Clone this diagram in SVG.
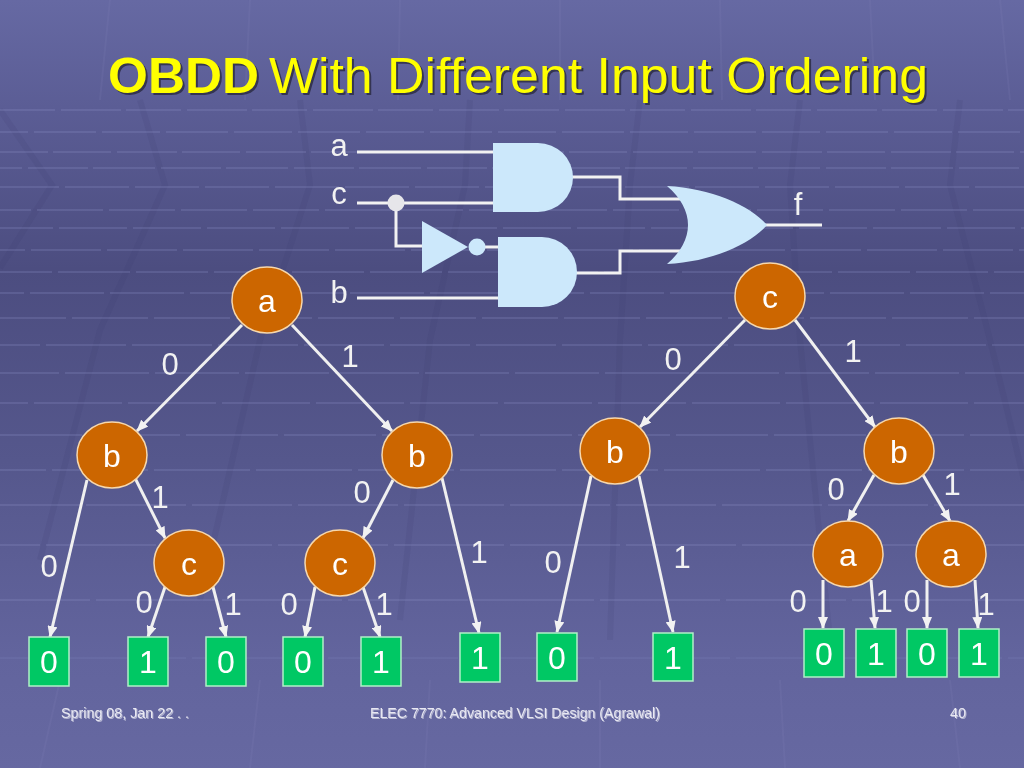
<svg xmlns="http://www.w3.org/2000/svg" width="1024" height="768" viewBox="0 0 1024 768">
<defs>
<linearGradient id="bg" x1="0" y1="0" x2="0" y2="1">
<stop offset="0" stop-color="#6669a3"/>
<stop offset="0.14" stop-color="#5b5d95"/>
<stop offset="0.35" stop-color="#4c4d80"/>
<stop offset="0.6" stop-color="#55578c"/>
<stop offset="0.85" stop-color="#62649d"/>
<stop offset="1" stop-color="#6668a1"/>
</linearGradient>
<marker id="arr" markerUnits="userSpaceOnUse" markerWidth="12" markerHeight="10" refX="11" refY="5" orient="auto">
<path d="M0,0 L12,5 L0,10 z" fill="#f2f2f2"/>
</marker>
<style>
.grid{stroke:#9092c8;stroke-width:2;opacity:0.24;fill:none}
.dgrid{stroke:#3c3d6a;stroke-width:6;opacity:0.12;fill:none}
.vgrid{stroke:#8486bc;stroke-width:2;opacity:0.15;fill:none}
.wire{stroke:#f2f2f2;stroke-width:3;fill:none}
.gate{fill:#cce8fb}
.edge{stroke:#f0f0f0;stroke-width:3;fill:none;marker-end:url(#arr)}
.node{fill:#cc6600;stroke:#f7d8ac;stroke-width:1.5}
.leaf{fill:#00c864;stroke:#b0f0c8;stroke-width:1.5}
.lbl{font-family:"Liberation Sans",Arial,sans-serif;font-size:32px;fill:#ffffff;text-anchor:middle}
.elbl{font-family:"Liberation Sans",Arial,sans-serif;font-size:31px;fill:#f2f2f2;text-anchor:middle}
.foot{font-family:"Liberation Sans Narrow","Liberation Sans",Arial,sans-serif;font-size:14px;fill:#e8e8f2}
.title{font-family:"Liberation Sans Narrow","Liberation Sans",Arial,sans-serif;font-size:50px}
</style>
</defs>
<g id="background">
<rect width="1024" height="768" fill="url(#bg)"/>
<path class="vgrid" d="M110,0 L100,100 M250,0 L245,100 M400,0 L398,100 M560,0 L560,100 M720,0 L722,100 M870,0 L875,100 M1000,0 L1010,100 M60,680 L40,768 M260,680 L250,768 M430,680 L425,768 M600,680 L600,768 M780,680 L785,768 M950,680 L960,768"/>
<path class="dgrid" d="M0,110 L52,185 L0,268 M140,100 L165,185 L100,330 L40,560 M300,100 L310,185 L260,340 L200,600 M470,100 L465,185 L430,340 L400,620 M640,100 L630,185 L620,340 L610,640 M800,100 L790,185 L800,340 L830,640 M960,100 L950,185 L990,340 L1024,480"/>
<g class="grid">
<path d="M0,110 H1024" stroke-dasharray="55 6 60 5"/>
<path d="M0,132 H1024" stroke-dasharray="58 6 62 6" stroke-dashoffset="30"/>
<path d="M0,152 H1024" stroke-dasharray="60 5 58 6" stroke-dashoffset="12"/>
<path d="M0,168 H1024" stroke-dasharray="62 6 60 5" stroke-dashoffset="40"/>
<path d="M0,187 H1024" stroke-dasharray="64 6" stroke-dashoffset="5"/>
<path d="M0,210 H1024" stroke-dasharray="66 6" stroke-dashoffset="35"/>
<path d="M0,228 H1024" stroke-dasharray="68 6" stroke-dashoffset="15"/>
<path d="M0,250 H1024" stroke-dasharray="70 6" stroke-dashoffset="45"/>
<path d="M0,272 H1024" stroke-dasharray="72 6" stroke-dashoffset="20"/>
<path d="M0,293 H1024" stroke-dasharray="74 6" stroke-dashoffset="50"/>
<path d="M0,318 H1024" stroke-dasharray="76 6" stroke-dashoffset="10"/>
<path d="M0,345 H1024" stroke-dasharray="80 6" stroke-dashoffset="40"/>
<path d="M0,373 H1024" stroke-dasharray="84 6" stroke-dashoffset="25"/>
<path d="M0,403 H1024" stroke-dasharray="88 6" stroke-dashoffset="60"/>
<path d="M0,435 H1024" stroke-dasharray="92 6" stroke-dashoffset="10"/>
<path d="M0,470 H1024" stroke-dasharray="96 6" stroke-dashoffset="50"/>
<path d="M0,505 H1024" stroke-dasharray="100 6" stroke-dashoffset="20"/>
<path d="M0,545 H1024" stroke-dasharray="110 6" stroke-dashoffset="70"/>
<path d="M0,600 H1024" stroke-dasharray="120 6" stroke-dashoffset="30"/>
<path d="M0,658 H1024" stroke-dasharray="130 6" stroke-dashoffset="80" opacity="0.6"/>
</g>
</g>
<g id="title">
<text class="title" x="110" y="95" fill="#2a2a40" opacity="0.8" font-weight="bold" textLength="151" lengthAdjust="spacingAndGlyphs">OBDD</text>
<text class="title" x="271" y="95" fill="#2a2a40" opacity="0.8" textLength="659" lengthAdjust="spacingAndGlyphs">With Different Input Ordering</text>
<text class="title" x="108" y="93" fill="#ffff00" font-weight="bold" textLength="151" lengthAdjust="spacingAndGlyphs">OBDD</text>
<text class="title" x="269" y="93" fill="#ffff00" textLength="659" lengthAdjust="spacingAndGlyphs">With Different Input Ordering</text>
</g>
<g id="circuit">
<path class="wire" d="M357,152 H495 M357,203 H495 M396,203 V246 H424 M484,247 H500 M357,298 H500 M571,177 H620 V199 H682 M575,273 H620 V251 H682 M765,225 H822"/>
<path class="gate" d="M493,143 H538 A35,34.5 0 0 1 538,212 H493 Z"/>
<path class="gate" d="M498,237 H542 A35,35 0 0 1 542,307 H498 Z"/>
<polygon class="gate" points="422,221 468,247 422,273"/>
<circle class="gate" cx="477" cy="247" r="8.5"/>
<circle cx="396" cy="203" r="8.5" fill="#e6e6ea"/>
<path class="gate" d="M667,186 C710,188 750,205 767,225 C750,245 710,262 667,264 C695,240 695,210 667,186 Z"/>
<text class="elbl" x="339" y="156">a</text>
<text class="elbl" x="339" y="204">c</text>
<text class="elbl" x="339" y="303">b</text>
<text class="elbl" x="798" y="215">f</text>
</g>
<g id="connectors">
<line class="edge" x1="242" y1="325" x2="137" y2="431"/>
<line class="edge" x1="292" y1="325" x2="392" y2="431"/>
<line class="edge" x1="87" y1="480" x2="50" y2="637"/>
<line class="edge" x1="135" y1="478" x2="165" y2="538"/>
<line class="edge" x1="165" y1="587" x2="148" y2="637"/>
<line class="edge" x1="213" y1="587" x2="226" y2="637"/>
<line class="edge" x1="393" y1="480" x2="363" y2="538"/>
<line class="edge" x1="315" y1="587" x2="305" y2="637"/>
<line class="edge" x1="363" y1="587" x2="380" y2="637"/>
<line class="edge" x1="442" y1="478" x2="479" y2="633"/>
<line class="edge" x1="745" y1="320" x2="640" y2="427"/>
<line class="edge" x1="795" y1="320" x2="875" y2="427"/>
<line class="edge" x1="591" y1="476" x2="557" y2="632"/>
<line class="edge" x1="639" y1="476" x2="673" y2="632"/>
<line class="edge" x1="874" y1="475" x2="848" y2="521"/>
<line class="edge" x1="923" y1="475" x2="950" y2="521"/>
<line class="edge" x1="823" y1="580" x2="823" y2="628"/>
<line class="edge" x1="871" y1="580" x2="875" y2="628"/>
<line class="edge" x1="927" y1="580" x2="927" y2="628"/>
<line class="edge" x1="975" y1="580" x2="978" y2="628"/>
<text class="elbl" x="170" y="375">0</text>
<text class="elbl" x="350" y="367">1</text>
<text class="elbl" x="160" y="508">1</text>
<text class="elbl" x="49" y="577">0</text>
<text class="elbl" x="144" y="613">0</text>
<text class="elbl" x="233" y="615">1</text>
<text class="elbl" x="362" y="503">0</text>
<text class="elbl" x="289" y="615">0</text>
<text class="elbl" x="384" y="615">1</text>
<text class="elbl" x="479" y="563">1</text>
<text class="elbl" x="673" y="370">0</text>
<text class="elbl" x="853" y="362">1</text>
<text class="elbl" x="553" y="573">0</text>
<text class="elbl" x="682" y="568">1</text>
<text class="elbl" x="836" y="500">0</text>
<text class="elbl" x="952" y="495">1</text>
<text class="elbl" x="798" y="612">0</text>
<text class="elbl" x="884" y="612">1</text>
<text class="elbl" x="912" y="612">0</text>
<text class="elbl" x="986" y="615">1</text>
</g>
<g id="n_a1"><ellipse class="node" cx="267" cy="300" rx="35" ry="33"/><text class="lbl" x="267" y="312">a</text></g>
<g id="n_b1"><ellipse class="node" cx="112" cy="455" rx="35" ry="33"/><text class="lbl" x="112" y="467">b</text></g>
<g id="n_b2"><ellipse class="node" cx="417" cy="455" rx="35" ry="33"/><text class="lbl" x="417" y="467">b</text></g>
<g id="n_c1"><ellipse class="node" cx="189" cy="563" rx="35" ry="33"/><text class="lbl" x="189" y="575">c</text></g>
<g id="n_c2"><ellipse class="node" cx="340" cy="563" rx="35" ry="33"/><text class="lbl" x="340" y="575">c</text></g>
<g id="n_c3"><ellipse class="node" cx="770" cy="296" rx="35" ry="33"/><text class="lbl" x="770" y="308">c</text></g>
<g id="n_b3"><ellipse class="node" cx="615" cy="451" rx="35" ry="33"/><text class="lbl" x="615" y="463">b</text></g>
<g id="n_b4"><ellipse class="node" cx="899" cy="451" rx="35" ry="33"/><text class="lbl" x="899" y="463">b</text></g>
<g id="n_a2"><ellipse class="node" cx="848" cy="554" rx="35" ry="33"/><text class="lbl" x="848" y="566">a</text></g>
<g id="n_a3"><ellipse class="node" cx="951" cy="554" rx="35" ry="33"/><text class="lbl" x="951" y="566">a</text></g>
<g id="l1"><rect class="leaf" x="29" y="637" width="40" height="49"/><text class="lbl" x="49" y="673">0</text></g>
<g id="l2"><rect class="leaf" x="128" y="637" width="40" height="49"/><text class="lbl" x="148" y="673">1</text></g>
<g id="l3"><rect class="leaf" x="206" y="637" width="40" height="49"/><text class="lbl" x="226" y="673">0</text></g>
<g id="l4"><rect class="leaf" x="283" y="637" width="40" height="49"/><text class="lbl" x="303" y="673">0</text></g>
<g id="l5"><rect class="leaf" x="361" y="637" width="40" height="49"/><text class="lbl" x="381" y="673">1</text></g>
<g id="l6"><rect class="leaf" x="460" y="633" width="40" height="49"/><text class="lbl" x="480" y="669">1</text></g>
<g id="l7"><rect class="leaf" x="537" y="633" width="40" height="48"/><text class="lbl" x="557" y="669">0</text></g>
<g id="l8"><rect class="leaf" x="653" y="633" width="40" height="48"/><text class="lbl" x="673" y="669">1</text></g>
<g id="l9"><rect class="leaf" x="804" y="629" width="40" height="48"/><text class="lbl" x="824" y="665">0</text></g>
<g id="l10"><rect class="leaf" x="856" y="629" width="40" height="48"/><text class="lbl" x="876" y="665">1</text></g>
<g id="l11"><rect class="leaf" x="907" y="629" width="40" height="48"/><text class="lbl" x="927" y="665">0</text></g>
<g id="l12"><rect class="leaf" x="959" y="629" width="40" height="48"/><text class="lbl" x="979" y="665">1</text></g>
<g id="footer">
<text class="foot" x="62" y="719" fill="#30304a" opacity="0.6" textLength="128" lengthAdjust="spacingAndGlyphs">Spring 08, Jan 22 . .</text>
<text class="foot" x="371" y="719" fill="#30304a" opacity="0.6" textLength="290" lengthAdjust="spacingAndGlyphs">ELEC 7770: Advanced VLSI Design (Agrawal)</text>
<text class="foot" x="951" y="719" fill="#30304a" opacity="0.6" textLength="16" lengthAdjust="spacingAndGlyphs">40</text>
<text class="foot" x="61" y="718" textLength="128" lengthAdjust="spacingAndGlyphs">Spring 08, Jan 22 . .</text>
<text class="foot" x="370" y="718" textLength="290" lengthAdjust="spacingAndGlyphs">ELEC 7770: Advanced VLSI Design (Agrawal)</text>
<text class="foot" x="950" y="718" textLength="16" lengthAdjust="spacingAndGlyphs">40</text>
</g>
</svg>
